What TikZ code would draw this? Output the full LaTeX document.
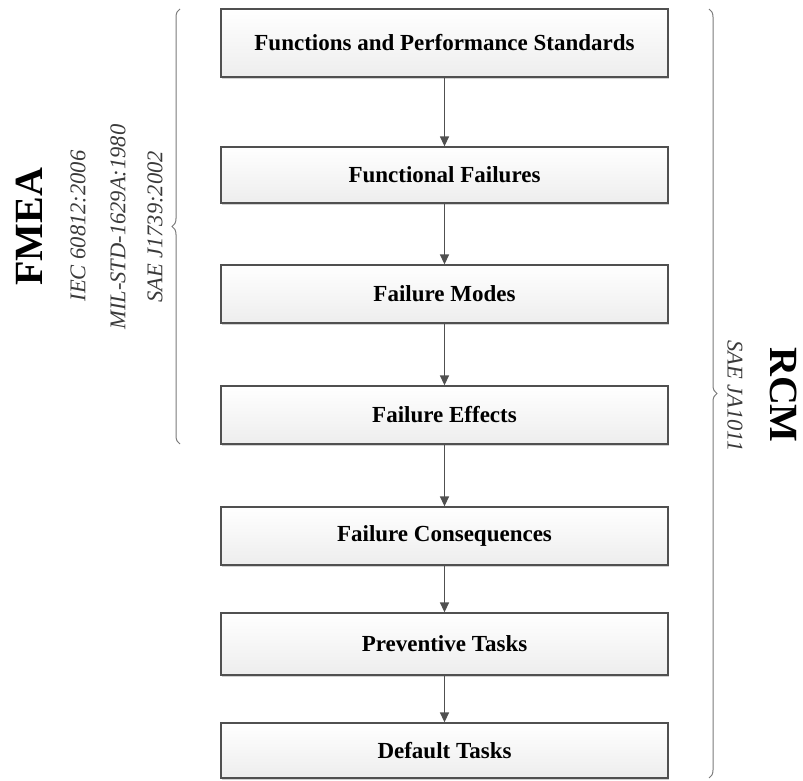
\documentclass[tikz,border=0pt]{standalone}
\usepackage{fontspec}
\setmainfont{Liberation Serif}
\usetikzlibrary{arrows.meta,shadows,decorations.pathreplacing}
\definecolor{boxline}{HTML}{505050}
\definecolor{bracecol}{HTML}{7A7A7A}
\definecolor{stdtext}{HTML}{3A3A3A}
\tikzset{
  stepbox/.style={draw=boxline, line width=1.3pt, top color=white, bottom color=black!7,
    minimum width=447pt, inner sep=0pt, font=\fontsize{23}{26}\selectfont\bfseries,
    drop shadow={shadow xshift=1pt, shadow yshift=-2pt, opacity=0.18, fill=black}},
  flow/.style={draw=boxline, line width=1.4pt, -{Triangle[length=10pt,width=9pt]}},
  bracedeco/.style={draw=bracecol, line width=1pt, decorate, decoration={brace, amplitude=8pt}},
  bigtitle/.style={font=\fontsize{40}{44}\selectfont\bfseries, inner sep=0pt},
  stdlabel/.style={font=\fontsize{22.5}{25}\selectfont\itshape, text=stdtext, inner sep=0pt}
}
\begin{document}
\begin{tikzpicture}[x=1pt,y=1pt]
\useasboundingbox (0,0) rectangle (803,780);
\node[stepbox, minimum height=68pt] (b1) at (444.5,737) {Functions and Performance Standards};
\node[stepbox, minimum height=56pt] (b2) at (444.5,605) {Functional Failures};
\node[stepbox, minimum height=58pt] (b3) at (444.5,486) {Failure Modes};
\node[stepbox, minimum height=58pt] (b4) at (444.5,365) {Failure Effects};
\node[stepbox, minimum height=58pt] (b5) at (444.5,244) {Failure Consequences};
\node[stepbox, minimum height=62pt] (b6) at (444.5,136) {Preventive Tasks};
\node[stepbox, minimum height=55pt] (b7) at (444.5,29.5) {Default Tasks};
\draw[flow] (b1) -- (b2);
\draw[flow] (b2) -- (b3);
\draw[flow] (b3) -- (b4);
\draw[flow] (b4) -- (b5);
\draw[flow] (b5) -- (b6);
\draw[flow] (b6) -- (b7);
\coordinate (lb1) at (180,336);
\coordinate (lb2) at (180,771);
\coordinate (rb1) at (709,771);
\coordinate (rb2) at (709,2);
\draw[bracedeco] (lb1) -- (lb2);
\draw[bracedeco] (rb1) -- (rb2);
\node[bigtitle, rotate=90] (fmea) at (29,553) {FMEA};
\node[stdlabel, rotate=90] (iec) at (78,554) {IEC 60812:2006};
\node[stdlabel, rotate=90] (mil) at (118,553) {MIL-STD-1629A:1980};
\node[stdlabel, rotate=90] (sae1) at (155,553) {SAE J1739:2002};
\node[bigtitle, rotate=-90] (rcm) at (784,385) {RCM};
\node[stdlabel, rotate=-90] (sae2) at (735,384) {SAE JA1011};
\end{tikzpicture}
\end{document}
